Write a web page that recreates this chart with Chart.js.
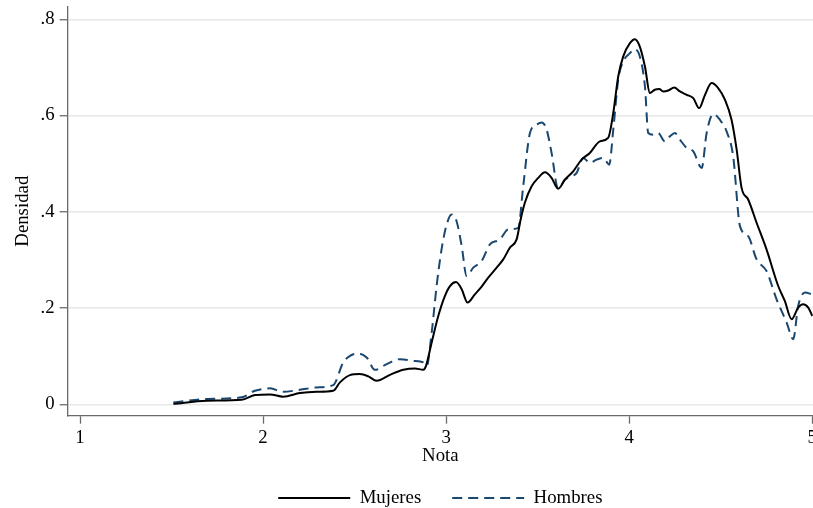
<!DOCTYPE html>
<html>
<head>
<meta charset="utf-8">
<script src="https://cdn.jsdelivr.net/npm/chart.js@4/dist/chart.umd.min.js"></script>
<style>
html,body{margin:0;padding:0;background:#fff;}
#c{display:block;}
</style>
</head>
<body>
<canvas id="c" width="813" height="508" style="width:813px;height:508px"></canvas>
<script>
// ---- data ----
const seriesNames = ['Mujeres', 'Hombres'];

const xMujeres = [1.51,1.692,1.883,1.956,2.038,2.110,2.202,2.293,2.383,2.420,2.475,2.529,2.575,2.620,2.693,2.766,2.830,2.875,2.890,2.921,2.957,2.993,3.021,3.054,3.085,3.117,3.157,3.194,3.230,3.276,3.312,3.348,3.385,3.407,3.430,3.467,3.503,3.540,3.576,3.612,3.649,3.694,3.740,3.785,3.840,3.885,3.913,3.940,3.967,4.004,4.031,4.058,4.086,4.113,4.140,4.164,4.186,4.213,4.246,4.277,4.314,4.350,4.382,4.414,4.450,4.486,4.523,4.559,4.587,4.614,4.650,4.696,4.750,4.814,4.850,4.887,4.923,4.950,4.978,5.0];
const yMujeres = [0.001,0.0075,0.0095,0.0193,0.0207,0.0158,0.0234,0.0261,0.0282,0.0456,0.0607,0.0628,0.058,0.0489,0.0613,0.0717,0.0746,0.0717,0.080,0.1285,0.1836,0.225,0.2458,0.2541,0.239,0.2114,0.2286,0.2446,0.2632,0.284,0.3011,0.3254,0.3426,0.384,0.4187,0.453,0.4705,0.482,0.4705,0.4477,0.467,0.4841,0.5084,0.5223,0.5463,0.5534,0.6052,0.681,0.7225,0.7503,0.7585,0.7432,0.7018,0.6466,0.6535,0.655,0.650,0.652,0.6582,0.650,0.643,0.6363,0.6155,0.643,0.6674,0.657,0.6328,0.5913,0.5291,0.4497,0.4255,0.3772,0.3219,0.2458,0.2147,0.1768,0.201,0.2079,0.201,0.1836];

const xHombres = [1.51,1.692,1.883,1.956,2.038,2.110,2.202,2.293,2.383,2.438,2.475,2.520,2.566,2.611,2.675,2.748,2.820,2.875,2.894,2.921,2.948,2.975,3.003,3.030,3.057,3.085,3.112,3.148,3.194,3.239,3.294,3.339,3.394,3.421,3.458,3.494,3.522,3.549,3.576,3.612,3.649,3.685,3.713,3.749,3.785,3.822,3.858,3.891,3.913,3.940,3.967,4.004,4.027,4.058,4.086,4.104,4.131,4.158,4.195,4.222,4.250,4.277,4.314,4.350,4.396,4.423,4.459,4.495,4.532,4.568,4.605,4.650,4.696,4.750,4.805,4.860,4.896,4.923,4.960,5.0];
const yHombres = [0.004,0.011,0.0145,0.0282,0.0332,0.0261,0.0303,0.0352,0.040,0.087,0.1007,0.1057,0.0974,0.0717,0.0835,0.0939,0.0904,0.087,0.080,0.1492,0.2458,0.3219,0.3737,0.3944,0.3805,0.3287,0.2665,0.284,0.2976,0.3322,0.3426,0.3633,0.3668,0.453,0.5637,0.581,0.5857,0.5706,0.5223,0.4477,0.467,0.4738,0.4808,0.5119,0.5016,0.5084,0.5119,0.498,0.5706,0.6742,0.7121,0.7295,0.7378,0.7225,0.6603,0.5637,0.5602,0.5637,0.5463,0.5567,0.5637,0.5498,0.5326,0.5256,0.4912,0.5637,0.6031,0.5913,0.567,0.5152,0.3702,0.3494,0.3011,0.2769,0.2182,0.170,0.1353,0.2044,0.2321,0.2286];

const xTicks = [1, 2, 3, 4, 5];
const xTickLabels = ['1', '2', '3', '4', '5'];
const yTicks = [0, 0.2, 0.4, 0.6, 0.8];
const yTickLabels = ['0', '.2', '.4', '.6', '.8'];
const xTitle = 'Nota';
const yTitle = 'Densidad';

// ---- chart ----
const FONT = 'Liberation Serif';
const FS = 18.8;
const AXIS = '#6a6a6a';

function pts(xs, ys) { return xs.map((x, i) => ({x: x, y: ys[i]})); }

new Chart(document.getElementById('c'), {
  type: 'line',
  data: {
    datasets: [
      {
        label: seriesNames[0],
        data: pts(xMujeres, yMujeres),
        borderColor: '#000000',
        backgroundColor: '#000000',
        borderWidth: 2,
        pointRadius: 0,
        cubicInterpolationMode: 'monotone',
        fill: false
      },
      {
        label: seriesNames[1],
        data: pts(xHombres, yHombres),
        borderColor: '#1a476f',
        backgroundColor: '#1a476f',
        borderWidth: 2,
        borderDash: [10, 6],
        pointRadius: 0,
        cubicInterpolationMode: 'monotone',
        fill: false
      }
    ]
  },
  options: {
    responsive: false,
    animation: false,
    devicePixelRatio: 1,
    layout: { padding: { top: 6.7, right: 0, left: 4, bottom: -9.4 } },
    plugins: {
      tooltip: { enabled: false },
      legend: {
        position: 'bottom',
        fullSize: false,
        labels: {
          usePointStyle: true,
          pointStyle: 'line',
          pointStyleWidth: 72,
          boxWidth: 72,
          padding: 31,
          color: '#000',
          font: { family: FONT, size: FS },
          generateLabels: (chart) => {
            const items = Chart.defaults.plugins.legend.labels.generateLabels(chart);
            items.forEach(it => {
              const ds = chart.data.datasets[it.datasetIndex];
              it.lineDash = ds.borderDash || [];
              it.strokeStyle = ds.borderColor;
              it.lineWidth = 2;
            });
            return items;
          }
        }
      }
    },
    scales: {
      x: {
        type: 'linear',
        min: 0.9328,
        max: 5.004,
        afterBuildTicks: s => { s.ticks = xTicks.map(v => ({value: v})); },
        afterFit: s => { s.height = 41.9; s.paddingLeft = 0; s.paddingRight = 0; },
        ticks: {
          autoSkip: false,
          maxRotation: 0,
          padding: 3,
          color: '#000',
          font: { family: FONT, size: FS },
          callback: (v) => { const i = xTicks.indexOf(v); return i >= 0 ? xTickLabels[i] : ''; }
        },
        grid: { drawOnChartArea: false, drawTicks: true, tickLength: 8, tickColor: AXIS, tickWidth: 1.3 },
        border: { display: true, color: AXIS, width: 1.3 },
        title: {
          display: true,
          text: xTitle,
          color: '#000',
          font: { family: FONT, size: FS },
          padding: { top: 0, bottom: -9.4 }
        }
      },
      y: {
        type: 'linear',
        min: -0.0236,
        max: 0.8261,
        afterBuildTicks: s => { s.ticks = yTicks.map(v => ({value: v})); },
        afterFit: s => { s.width = 63.7; s.paddingTop = 0; s.paddingBottom = 0; },
        ticks: {
          autoSkip: false,
          padding: 5,
          color: '#000',
          font: { family: FONT, size: FS },
          callback: (v) => { const i = yTicks.findIndex(t => Math.abs(t - v) < 1e-9); return i >= 0 ? yTickLabels[i] : ''; }
        },
        grid: { color: '#e8e8e8', lineWidth: 1.5, drawTicks: true, tickLength: 8, tickColor: AXIS, tickWidth: 1.3 },
        border: { display: true, color: AXIS, width: 1.3 },
        title: {
          display: true,
          text: yTitle,
          color: '#000',
          font: { family: FONT, size: FS },
          padding: { top: 7.7, bottom: 0 }
        }
      }
    }
  }
});
</script>
</body>
</html>
